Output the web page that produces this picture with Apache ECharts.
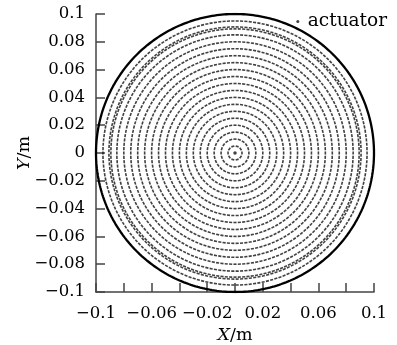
<!DOCTYPE html>
<html>
<head>
<meta charset="utf-8">
<script src="https://cdn.jsdelivr.net/npm/echarts@6/dist/echarts.min.js"></script>
<style>
  html, body { margin: 0; padding: 0; background: #fff; }
  #chart { width: 397px; height: 345px; }
</style>
</head>
<body>
<div id="chart"></div>
<script>
// Actuator layout: concentric rings of actuators inside a circular aperture (metres)
const ringRadii  = [0.005, 0.010, 0.015, 0.020, 0.025, 0.030, 0.035, 0.040, 0.045, 0.050,
                    0.055, 0.060, 0.065, 0.070, 0.075, 0.080, 0.085, 0.0893, 0.0907, 0.095];
const ringCounts = [10, 20, 30, 40, 50, 60, 70, 80, 90, 100,
                    110, 120, 130, 140, 150, 160, 170, 180, 180, 190];
const ringPhase  = [0, 0, 0, 0, 0, 0, 0, 0, 0, 0,
                    0, 0, 0, 0, 0, 0, 0, 0, 0.5, 0];
const centerActuator = [0, 0];
const apertureRadius = 0.1;

// Axis ticks and labels
const xTickValues = [-0.1, -0.08, -0.06, -0.04, -0.02, 0, 0.02, 0.04, 0.06, 0.08, 0.1];
const xTickLabels = ['\u22120.1', '', '\u22120.06', '', '\u22120.02', '', '0.02', '', '0.06', '', '0.1'];
const yTickValues = [-0.1, -0.08, -0.06, -0.04, -0.02, 0, 0.02, 0.04, 0.06, 0.08, 0.1];
const yTickLabels = ['\u22120.1', '\u22120.08', '\u22120.06', '\u22120.04', '\u22120.02', '0',
                     '0.02', '0.04', '0.06', '0.08', '0.1'];

function labelFor(values, labels) {
  return function (v) {
    for (let i = 0; i < values.length; i++) {
      if (Math.abs(values[i] - v) < 1e-9) return labels[i];
    }
    return '';
  };
}

// Build actuator points on each ring; each mark is a short tangential dash
const actuatorPoints = [];
ringRadii.forEach(function (r, i) {
  const n = ringCounts[i];
  for (let j = 0; j < n; j++) {
    const t = 2 * Math.PI * (j + ringPhase[i]) / n;
    actuatorPoints.push({
      value: [r * Math.cos(t), r * Math.sin(t)],
      symbolRotate: t * 180 / Math.PI
    });
  }
});
actuatorPoints.push({ value: centerActuator, symbol: 'circle', symbolSize: 3.5 });

// Aperture boundary
const boundary = [];
for (let k = 0; k <= 720; k++) {
  const t = 2 * Math.PI * k / 720;
  boundary.push([apertureRadius * Math.cos(t), apertureRadius * Math.sin(t)]);
}

const FONT = 'DejaVu Serif';
const axisCommon = {
  type: 'value',
  min: -0.1,
  max: 0.1,
  interval: 0.02,
  splitLine: { show: false },
  axisLine: { show: true, onZero: false, lineStyle: { color: '#444', width: 1.5 } },
  axisTick: { show: true, inside: true, length: 9, lineStyle: { color: '#444', width: 1.5 } },
  nameLocation: 'middle',
  nameMoveOverlap: false,
  nameTextStyle: {
    fontFamily: FONT, fontSize: 17.5, color: '#000',
    rich: { i: { fontFamily: FONT, fontSize: 17.5, fontStyle: 'italic', color: '#000' } }
  }
};

const chart = echarts.init(document.getElementById('chart'), null, { renderer: 'canvas' });
chart.setOption({
  animation: false,
  backgroundColor: '#fff',
  grid: { left: 96, top: 14, width: 278, height: 278, containLabel: false, outerBoundsMode: 'none' },
  legend: {
    data: [{ name: 'actuator', icon: 'circle' }],
    right: 5,
    top: 7,
    itemWidth: 10,
    itemHeight: 3,
    itemStyle: { color: '#111' },
    textStyle: { fontFamily: FONT, fontSize: 18.5, color: '#000' }
  },
  xAxis: Object.assign({}, axisCommon, {
    name: '{i|X}/m',
    nameGap: 34,
    axisLabel: {
      margin: 13, fontFamily: FONT, fontSize: 16.5, color: '#000',
      formatter: labelFor(xTickValues, xTickLabels)
    }
  }),
  yAxis: Object.assign({}, axisCommon, {
    name: '{i|Y}/m',
    nameGap: 63,
    nameRotate: 90,
    axisLabel: {
      margin: 11, fontFamily: FONT, fontSize: 16.5, color: '#000',
      formatter: labelFor(yTickValues, yTickLabels)
    }
  }),
  series: [
    {
      name: 'actuator',
      type: 'scatter',
      symbol: 'rect',
      symbolSize: [1.6, 3.1],
      itemStyle: { color: '#111' },
      data: actuatorPoints,
      silent: true,
      z: 2
    },
    {
      name: 'aperture',
      type: 'line',
      data: boundary,
      showSymbol: false,
      lineStyle: { color: '#000', width: 2.3 },
      silent: true,
      z: 3
    }
  ]
});
</script>
</body>
</html>
